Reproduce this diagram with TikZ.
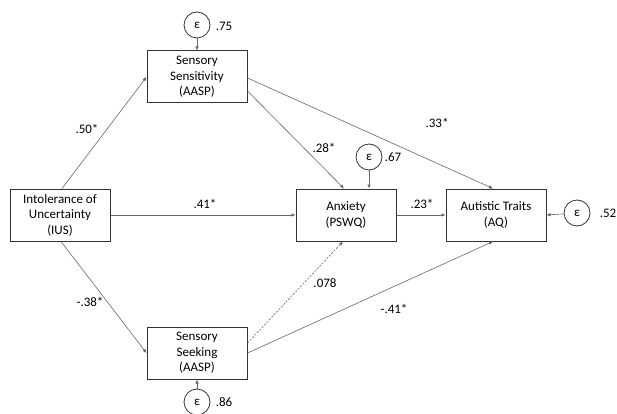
\documentclass[tikz,border=0pt]{standalone}
\usepackage{fontspec}
\setmainfont{Carlito}
\usetikzlibrary{arrows.meta}
\begin{document}
\begin{tikzpicture}[x=1pt,y=-1pt,
  font=\fontsize{13}{15.5}\selectfont,
  var/.style={draw=black!80,line width=1pt,minimum width=100pt,minimum height=52pt,inner sep=1pt,align=center},
  err/.style={draw=black!80,line width=0.8pt,circle,minimum size=26pt,inner sep=0pt},
  path/.style={draw=black!60,line width=0.6pt,-{Latex[length=4pt,width=3.5pt]}},
  lab/.style={inner sep=0pt}]
\useasboundingbox (0,0) rectangle (617,414);
% boxes
\node[var] (ss) at (197,77) {Sensory\\Sensitivity\\(AASP)};
\node[var] (ius) at (60,215) {Intolerance of\\Uncertainty\\(IUS)};
\node[var] (anx) at (346,215) {Anxiety\\(PSWQ)};
\node[var] (aq) at (496,215) {Autistic Traits\\(AQ)};
\node[var] (sk) at (197,353) {Sensory\\Seeking\\(AASP)};
% error terms
\node[err] (e1) at (197,25) {ε};
\node[err] (e2) at (369,157) {ε};
\node[err] (e3) at (577,213) {ε};
\node[err] (e4) at (197,402) {ε};
\node[lab] (l1) at (224,26) {.75};
\node[lab] (l2) at (393,157) {.67};
\node[lab] (l3) at (608,213) {.52};
\node[lab] (l4) at (224,402) {.86};
% error arrows
\draw[path] (e1) -- (ss.north);
\draw[path] (e2) -- ([xshift=23pt]anx.north);
\draw[path] (e3) -- (aq.east);
\draw[path] (e4) -- (sk.south);
% structural paths
\draw[path] ([xshift=2pt]ius.north) -- (ss.west);
\draw[path] (ius.east) -- (anx.west);
\draw[path] ([xshift=1pt]ius.south) -- (sk.west);
\draw[path] ([yshift=-14pt]ss.east) -- ([xshift=-2pt]anx.north);
\draw[path] ([yshift=-1pt]ss.east) -- ([xshift=-3pt]aq.north);
\draw[path] (anx.east) -- (aq.west);
\draw[path,dashed,dash pattern=on 2pt off 1.5pt] ([yshift=10pt]sk.east) -- ([xshift=-3pt]anx.south);
\draw[path] (sk.east) -- ([xshift=-3pt]aq.south);
% coefficients
\node[lab] (c1) at (87,129) {.50*};
\node[lab] (c2) at (90,302) {-.38*};
\node[lab] (c3) at (205,204) {.41*};
\node[lab] (c4) at (324,148) {.28*};
\node[lab] (c5) at (437,123) {.33*};
\node[lab] (c6) at (422,204) {.23*};
\node[lab] (c7) at (325,283) {.078};
\node[lab] (c8) at (394,309) {-.41*};
\end{tikzpicture}
\end{document}
